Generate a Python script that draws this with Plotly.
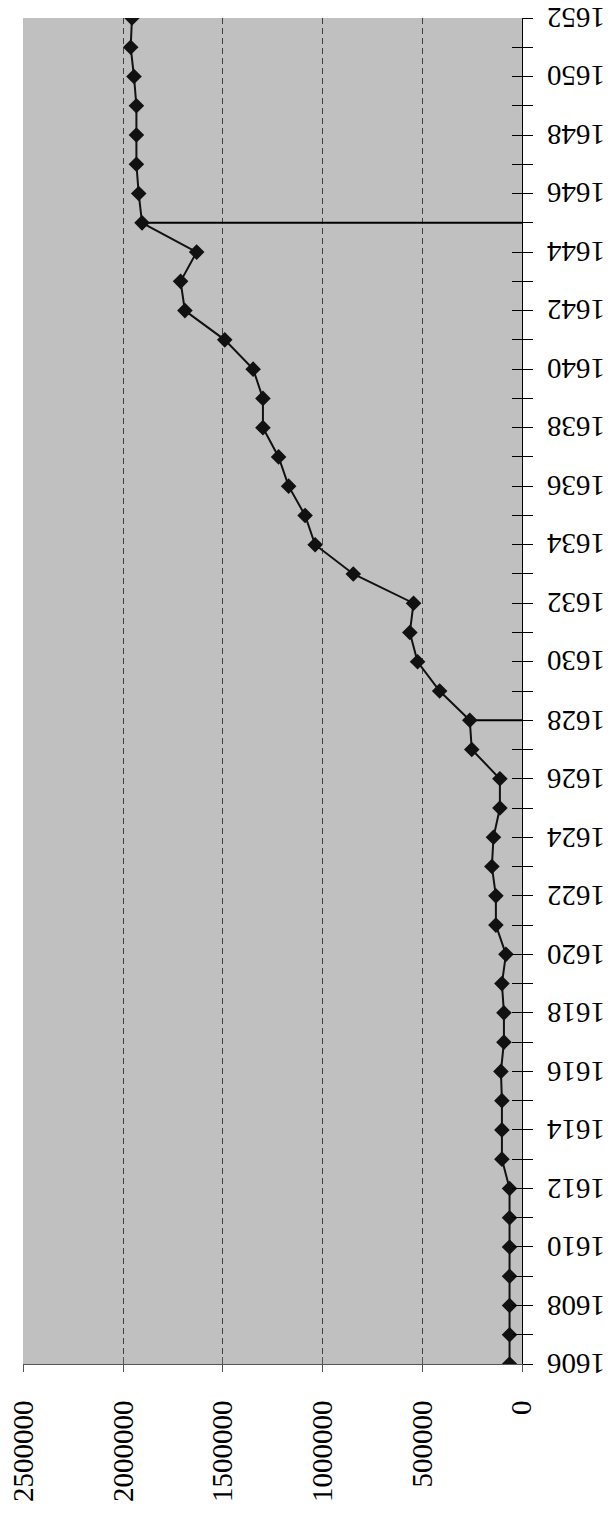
import plotly.graph_objects as go

years = list(range(1606, 1653))
values = [
    62400, 62400, 62400, 62400, 62400, 62400, 62400,          # 1606-1612
    100700, 100700, 100700, 105700, 90600, 90600, 100700,     # 1613-1619
    80600, 130900, 130900, 151000, 143000, 110800, 110800,    # 1620-1626
    251800, 261800, 412900, 523600, 562400, 543800, 845900,   # 1627-1633
    1037200, 1087600, 1170100, 1220500, 1299000, 1299000,     # 1634-1639
    1348000, 1490400, 1690200, 1711900, 1631300, 1905200,     # 1640-1645
    1921900, 1933400, 1933400, 1933400, 1945500, 1962100,     # 1646-1651
    1955600,                                                  # 1652
]
drop_years = [1628, 1645]
value_ticks = [0, 500000, 1000000, 1500000, 2000000, 2500000]
label_years = [y for y in years if y % 2 == 0]

FONT = "Liberation Serif, Times New Roman, serif"
FS = 29

drop_x, drop_y = [], []
for yr in drop_years:
    v = values[years.index(yr)]
    drop_x += [0, v, None]
    drop_y += [yr, yr, None]

fig = go.Figure()
fig.add_trace(go.Scatter(x=drop_x, y=drop_y, mode="lines",
                         line=dict(color="black", width=2),
                         showlegend=False, hoverinfo="skip"))
fig.add_trace(go.Scatter(x=values, y=years, mode="lines+markers",
                         line=dict(color="#111111", width=2),
                         marker=dict(symbol="diamond", size=12, color="#111111"),
                         showlegend=False))
# invisible trace for the overlay axes (crossing ticks)
fig.add_trace(go.Scatter(x=[None], y=[None], xaxis="x2", yaxis="y2",
                         showlegend=False, hoverinfo="skip"))

# upside-down year labels
for yr in label_years:
    fig.add_annotation(x=1, xref="paper", y=yr, yref="y",
                       text=str(yr), textangle=180, showarrow=False,
                       xanchor="center", yanchor="middle", xshift=54,
                       font=dict(family=FONT, size=FS, color="black"))

fig.update_layout(
    width=614, height=1513,
    margin=dict(l=23, r=92, t=18, b=149),
    paper_bgcolor="white",
    plot_bgcolor="#c0c0c0",
    font=dict(family=FONT, size=FS, color="black"),
    xaxis=dict(
        range=[2502000, 0],
        tickvals=value_ticks,
        ticktext=[str(v) for v in value_ticks],
        tickangle=-90,
        showgrid=True, gridcolor="#404040", griddash="6px,4px", gridwidth=1,
        zeroline=False,
        showline=True, linecolor="#555555", linewidth=1,
        ticks="outside", ticklen=7, tickcolor="#555555",
        ticklabelstandoff=17,
        tickfont=dict(family=FONT, size=FS, color="black"),
        automargin=False,
    ),
    yaxis=dict(
        range=[1606, 1652],
        side="right",
        tickvals=years,
        showticklabels=False,
        showgrid=False, zeroline=False,
        showline=True, linecolor="black", linewidth=1,
        ticks="outside", ticklen=10, tickcolor="black",
        automargin=False,
    ),
    xaxis2=dict(
        overlaying="x", side="bottom", anchor="y2",
        range=[2502000, 0], tickvals=value_ticks,
        showticklabels=False, showgrid=False, zeroline=False, showline=False,
        ticks="inside", ticklen=7, tickcolor="#555555", automargin=False,
    ),
    yaxis2=dict(
        overlaying="y", side="right", anchor="x2",
        range=[1606, 1652], tickvals=years,
        showticklabels=False, showgrid=False, zeroline=False, showline=False,
        ticks="inside", ticklen=10, tickcolor="black", automargin=False,
    ),
)

fig.write_html("out.html",
               config={"displayModeBar": False},
               post_script="document.body.style.margin='0';document.body.style.overflow='hidden';")
